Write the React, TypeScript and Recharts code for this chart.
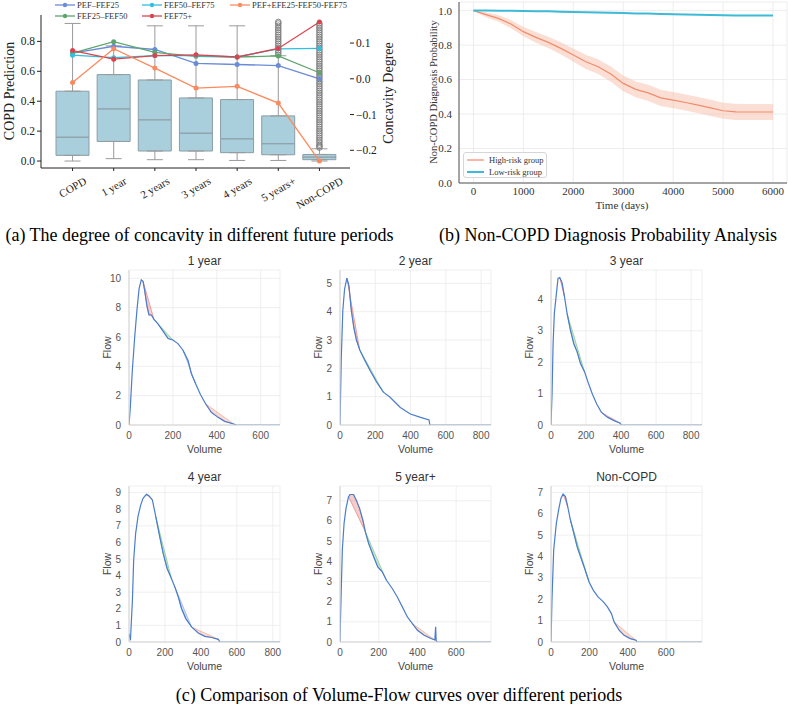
import React from "react";
import {
  ComposedChart,
  Bar,
  Line,
  Area,
  Scatter,
  ErrorBar,
  XAxis,
  YAxis,
  CartesianGrid,
  Label,
} from "recharts";

const SERIF = "'Liberation Serif', 'Times New Roman', serif";
const SANS = "'Liberation Sans', Arial, Helvetica, sans-serif";

// ---------- (a) concavity degree per period ----------
const periods = ["COPD", "1 year", "2 years", "3 years", "4 years", "5 years+", "Non-COPD"];
const boxMin = [0.0, 0.016, 0.009, 0.009, 0.004, 0.004, 0.0];
const boxQ1 = [0.038, 0.131, 0.067, 0.067, 0.056, 0.042, 0.009];
const boxMedian = [0.16, 0.349, 0.276, 0.187, 0.149, 0.116, 0.027];
const boxQ3 = [0.467, 0.578, 0.542, 0.422, 0.411, 0.302, 0.044];
const boxMax = [0.92, 0.77, 0.904, 0.904, 0.904, 0.704, 0.082];
const outliers5Years = [0.71, 0.725, 0.74, 0.755, 0.77, 0.785, 0.8, 0.815, 0.83, 0.845, 0.86, 0.875, 0.89, 0.905, 0.92, 0.93];
const outliersNonCopd = [
  0.09, 0.1, 0.11, 0.125, 0.14, 0.155, 0.17, 0.185, 0.2, 0.215, 0.23, 0.245, 0.26, 0.275, 0.29,
  0.305, 0.32, 0.335, 0.35, 0.365, 0.38, 0.395, 0.41, 0.425, 0.44, 0.455, 0.47, 0.485, 0.5,
  0.515, 0.53, 0.545, 0.56, 0.575, 0.59, 0.605, 0.62, 0.635, 0.65, 0.665, 0.68, 0.695, 0.71,
  0.725, 0.74, 0.755, 0.77, 0.785, 0.8, 0.815, 0.83, 0.845, 0.86, 0.875, 0.89, 0.905, 0.92,
];

const pefFef25 = [0.072, 0.091, 0.082, 0.043, 0.04, 0.037, 0.0];
const fef25Fef50 = [0.072, 0.104, 0.074, 0.063, 0.061, 0.064, 0.017];
const fef50Fef75 = [0.066, 0.059, 0.065, 0.065, 0.061, 0.084, 0.085];
const fef75Plus = [0.079, 0.055, 0.065, 0.067, 0.061, 0.085, 0.159];
const pefAll = [-0.01, 0.084, 0.03, -0.026, -0.021, -0.068, -0.23];

const concavitySeries = [
  { key: "pef", name: "PEF–FEF25", color: "#6a8bd5", values: pefFef25 },
  { key: "f2550", name: "FEF25–FEF50", color: "#5ea56d", values: fef25Fef50 },
  { key: "f5075", name: "FEF50–FEF75", color: "#2fc0df", values: fef50Fef75 },
  { key: "f75", name: "FEF75+", color: "#d9454f", values: fef75Plus },
  { key: "all", name: "PEF+EFE25-FEF50-FEF75", color: "#fb8a5f", values: pefAll },
];

const concavityRows = periods.map((cat, i) => {
  const row: any = {
    cat,
    base: boxQ1[i],
    lower: boxMedian[i] - boxQ1[i],
    upper: boxQ3[i] - boxMedian[i],
    q1: boxQ1[i],
    q3: boxQ3[i],
    upErr: [0, boxMax[i] - boxQ3[i]],
    loErr: [boxQ1[i] - boxMin[i], 0],
  };
  concavitySeries.forEach((s) => (row[s.key] = s.values[i]));
  return row;
});

const outlierPoints = [
  ...outliers5Years.map((v) => ({ ix: 5, v })),
  ...outliersNonCopd.map((v) => ({ ix: 6, v })),
];

// ---------- (b) Kaplan-Meier style curves ----------
const kmDays = [0, 250, 500, 750, 1000, 1250, 1500, 1750, 2000, 2250, 2500, 2750, 3000, 3250, 3500, 3750, 4000, 4250, 4500, 4750, 5000, 5250, 5500, 5750, 6000];
const highRisk = [1.0, 0.977, 0.955, 0.922, 0.878, 0.845, 0.816, 0.781, 0.742, 0.703, 0.674, 0.632, 0.578, 0.543, 0.523, 0.494, 0.481, 0.467, 0.452, 0.436, 0.419, 0.413, 0.412, 0.412, 0.412];
const highRiskLower = [1.0, 0.962, 0.935, 0.898, 0.851, 0.814, 0.783, 0.745, 0.704, 0.662, 0.632, 0.588, 0.532, 0.497, 0.476, 0.447, 0.434, 0.42, 0.405, 0.389, 0.372, 0.366, 0.365, 0.365, 0.365];
const highRiskUpper = [1.0, 0.99, 0.974, 0.945, 0.905, 0.876, 0.849, 0.817, 0.78, 0.744, 0.716, 0.676, 0.624, 0.589, 0.57, 0.541, 0.528, 0.514, 0.499, 0.483, 0.466, 0.46, 0.459, 0.459, 0.459];
const lowRisk = [1.0, 1.0, 0.999, 0.999, 0.998, 0.997, 0.996, 0.994, 0.992, 0.991, 0.989, 0.988, 0.986, 0.984, 0.983, 0.981, 0.979, 0.978, 0.976, 0.975, 0.973, 0.972, 0.972, 0.971, 0.971];
const kmXTicks = [0, 1000, 2000, 3000, 4000, 5000, 6000];
const kmYTicks = [0, 0.2, 0.4, 0.6, 0.8, 1.0];

const kmRows = kmDays.map((t, i) => ({
  t,
  high: highRisk[i],
  band: [highRiskLower[i], highRiskUpper[i]],
  low: lowRisk[i],
}));

// ---------- (c) volume-flow curves: [volume, flow] ----------
const flow1Year = [[0, 0], [6, 1.2], [15, 3.7], [26, 6.0], [36, 7.8], [46, 9.3], [56, 9.9], [64, 9.8], [71, 9.2], [82, 8.1], [91, 7.5], [102, 7.5], [114, 7.2], [132, 6.9], [155, 6.4], [178, 5.9], [200, 5.8], [223, 5.55], [246, 5.1], [269, 4.4], [284, 3.5], [304, 2.8], [325, 2.1], [349, 1.45], [375, 0.87], [406, 0.52], [436, 0.25], [477, 0.07], [489, 0]];
const flow2Year = [[0, 0], [7, 2.3], [16, 4.05], [26, 4.8], [39, 5.18], [51, 4.9], [64, 4.05], [78, 3.45], [93, 3.0], [112, 2.65], [141, 2.28], [170, 1.93], [208, 1.51], [246, 1.16], [284, 0.98], [342, 0.62], [399, 0.39], [457, 0.27], [505, 0.18], [509, 0]];
const flow3Year = [[0, 0], [6, 0.99], [12, 2.6], [19, 3.55], [29, 4.09], [40, 4.67], [50, 4.7], [63, 4.53], [77, 4.09], [92, 3.55], [111, 3.02], [130, 2.59], [149, 2.33], [169, 1.95], [192, 1.69], [211, 1.37], [236, 0.99], [261, 0.67], [287, 0.41], [322, 0.25], [360, 0.14], [395, 0.06], [402, 0]];
const flow4Year = [[0, 0.51], [8, 0.1], [19, 2.52], [26, 4.93], [37, 6.55], [50, 7.55], [65, 8.25], [78, 8.66], [97, 8.9], [112, 8.8], [130, 8.56], [149, 7.55], [171, 6.34], [190, 5.34], [212, 4.43], [236, 3.83], [255, 3.32], [274, 2.72], [292, 2.02], [316, 1.41], [348, 0.91], [385, 0.54], [422, 0.34], [460, 0.27], [497, 0.16], [506, 0]];
const flow5YearPlus = [[0, 0], [5, 2.07], [12, 4.55], [21, 5.87], [31, 6.62], [44, 7.2], [52, 7.31], [70, 7.31], [84, 7.03], [101, 6.62], [118, 6.04], [131, 5.46], [148, 4.88], [174, 4.22], [195, 3.72], [218, 3.48], [240, 3.06], [270, 2.65], [296, 2.23], [322, 1.74], [348, 1.24], [374, 0.91], [400, 0.58], [435, 0.33], [470, 0.17], [490, 0.1], [494, 0.75], [497, 0.05], [503, 0]];
const flowNonCopd = [[0, 0], [5, 1.96], [14, 4.31], [28, 5.56], [40, 6.19], [52, 6.73], [63, 6.92], [75, 6.81], [87, 6.34], [101, 5.72], [119, 5.09], [136, 4.46], [154, 3.99], [175, 3.45], [198, 2.82], [220, 2.43], [245, 2.11], [273, 1.88], [294, 1.64], [315, 1.33], [329, 0.94], [355, 0.55], [381, 0.31], [413, 0.16], [443, 0.08], [448, 0]];

// shaded concavity segments: [start index, end index, colour]
const RED = "#e36f6b";
const GREEN = "#6dbb7a";
const BLUE = "#7f9ede";
const SALMON = "#f29a80";
const shades1Year = [[7, 12, RED], [12, 16, GREEN], [18, 21, BLUE], [23, 27, SALMON]];
const shades2Year = [[4, 9, RED], [9, 13, GREEN]];
const shades3Year = [[6, 8, RED], [9, 14, GREEN], [18, 21, SALMON]];
const shades4Year = [[8, 10, RED], [11, 15, GREEN], [16, 20, BLUE], [20, 24, SALMON]];
const shades5YearPlus = [[5, 11, RED], [11, 16, GREEN], [21, 25, SALMON]];
const shadesNonCopd = [[6, 8, RED], [9, 14, GREEN], [20, 24, SALMON]];

const flowTitles = ["1 year", "2 year", "3 year", "4 year", "5 year+", "Non-COPD"];
const flowTailEnds = [688, 856, 862, 840, 780, 787];
const flowYMax = [10.57, 5.47, 4.94, 9.4, 7.73, 7.3];
const flowXTicks = [
  [0, 200, 400, 600],
  [0, 200, 400, 600, 800],
  [0, 200, 400, 600, 800],
  [0, 200, 400, 600, 800],
  [0, 200, 400, 600],
  [0, 200, 400, 600],
];
const flowYTicks = [
  [0, 2, 4, 6, 8, 10],
  [0, 1, 2, 3, 4, 5],
  [0, 1, 2, 3, 4],
  [0, 1, 2, 3, 4, 5, 6, 7, 8, 9],
  [0, 1, 2, 3, 4, 5, 6, 7],
  [0, 1, 2, 3, 4, 5, 6, 7],
];
const flowCurves = [flow1Year, flow2Year, flow3Year, flow4Year, flow5YearPlus, flowNonCopd];
const flowShades: any[] = [shades1Year, shades2Year, shades3Year, shades4Year, shades5YearPlus, shadesNonCopd];

function buildFlowRows(curve: number[][], shades: any[], tailEnd: number) {
  const rows: any[] = curve.map(([v, f]) => ({ v, f }));
  shades.forEach(([a, b]: number[], k: number) => {
    const [v0, f0] = curve[a];
    const [v1, f1] = curve[b];
    for (let i = a; i <= b; i++) {
      // straight chord between the two curve points bounding the segment
      const chord = f0 + ((curve[i][0] - v0) / (v1 - v0)) * (f1 - f0);
      rows[i]["s" + k] = [curve[i][1], chord];
    }
  });
  rows[rows.length - 1].t = 0;
  rows.push({ v: tailEnd, t: 0 });
  return rows;
}

// ---------- helpers ----------
let measureCtx: any = null;
function textWidth(t: string, font: string) {
  if (!measureCtx && typeof document !== "undefined") {
    measureCtx = document.createElement("canvas").getContext("2d");
  }
  if (!measureCtx) return t.length * 6;
  measureCtx.font = font;
  return measureCtx.measureText(t).width;
}

function PeriodTick(props: any) {
  const { x, y, payload } = props;
  const fs = 11;
  const w = textWidth(payload.value, `${fs}px ${SERIF}`);
  const h = w * 0.5 + fs * 0.866;
  const cy = y + h / 2;
  return (
    <text
      x={x}
      y={cy}
      textAnchor="middle"
      dominantBaseline="central"
      transform={`rotate(-30 ${x} ${cy})`}
      fontSize={fs}
      fontFamily={SERIF}
      fill="#222"
    >
      {payload.value}
    </text>
  );
}

const vTitle = (x: number, y: number, text: string, size: number, family: string, fill = "#222") => () => (
  <text
    x={x}
    y={y}
    transform={`rotate(-90 ${x} ${y})`}
    textAnchor="middle"
    dominantBaseline="central"
    fontSize={size}
    fontFamily={family}
    fill={fill}
  >
    {text}
  </text>
);

const hTitle = (x: number, y: number, text: string, size: number, family: string, fill = "#222") => () => (
  <text x={x} y={y} textAnchor="middle" dominantBaseline="central" fontSize={size} fontFamily={family} fill={fill}>
    {text}
  </text>
);

const noShape = () => <g />;

const OutlierDot = (props: any) => {
  const { cx, cy } = props;
  if (cx == null || cy == null) return <g />;
  return <circle cx={cx} cy={cy} r={2.8} fill="none" stroke="#777" strokeWidth={0.9} />;
};

const fmtSigned = (v: number) => (Math.abs(v) < 1e-9 ? "0.0" : v < 0 ? "−" + Math.abs(v).toFixed(1) : v.toFixed(1));

// ---------- (a) ----------
function ConcavityLegend() {
  const cols = [55, 142, 230];
  const rows = [5, 15.5];
  return (
    <>
      {concavitySeries.map((s, i) => {
        const col = Math.floor(i / 2);
        const row = i % 2;
        return (
          <div
            key={s.key}
            style={{
              position: "absolute",
              left: cols[col],
              top: rows[row] - 5,
              height: 10,
              display: "flex",
              alignItems: "center",
              whiteSpace: "nowrap",
            }}
          >
            <svg width={20} height={10}>
              <line x1={0} y1={5} x2={20} y2={5} stroke={s.color} strokeWidth={1.3} />
              <circle cx={10} cy={5} r={2.2} fill={s.color} />
            </svg>
            <span style={{ marginLeft: 2, fontSize: 8.5, fontFamily: SERIF, color: "#333", lineHeight: "10px" }}>
              {s.name}
            </span>
          </div>
        );
      })}
    </>
  );
}

function ConcavityChart() {
  return (
    <div style={{ position: "absolute", left: 0, top: 0 }}>
      <ComposedChart width={398} height={218} data={concavityRows} margin={{ top: 15, right: 0, left: 0, bottom: 0 }}>
        <XAxis
          dataKey="cat"
          type="category"
          allowDuplicatedCategory={false}
          interval={0}
          padding={{ left: 11, right: 10 }}
          height={50}
          tickSize={3}
          tickMargin={4}
          axisLine={{ stroke: "#222" }}
          tickLine={{ stroke: "#222" }}
          tick={<PeriodTick />}
        />
        <XAxis xAxisId="num" dataKey="ix" type="number" domain={[-0.768, 6.743]} hide allowDataOverflow />
        <YAxis
          yAxisId="l"
          width={41}
          domain={[-0.0465, 0.9765]}
          ticks={[0, 0.2, 0.4, 0.6, 0.8]}
          tickFormatter={(v: number) => v.toFixed(1)}
          tickSize={4}
          tickMargin={2}
          axisLine={{ stroke: "#222" }}
          tickLine={{ stroke: "#222" }}
          tick={{ fontSize: 11.5, fontFamily: SERIF, fill: "#222" }}
          allowDataOverflow
        >
          <Label content={vTitle(9, 91, "COPD Prediction", 14, SERIF)} />
        </YAxis>
        <YAxis
          yAxisId="r"
          orientation="right"
          width={48}
          domain={[-0.2495, 0.1785]}
          ticks={[-0.2, -0.1, 0, 0.1]}
          tickFormatter={fmtSigned}
          tickSize={4}
          tickMargin={2}
          axisLine={false}
          tickLine={{ stroke: "#222" }}
          tick={{ fontSize: 11.5, fontFamily: SERIF, fill: "#222" }}
          allowDataOverflow
        >
          <Label content={vTitle(388, 93, "Concavity Degree", 14, SERIF)} />
        </YAxis>
        <Scatter yAxisId="l" dataKey="q3" shape={noShape} isAnimationActive={false}>
          <ErrorBar dataKey="upErr" direction="y" width={8} stroke="#9a9a9a" strokeWidth={1} />
        </Scatter>
        <Scatter yAxisId="l" dataKey="q1" shape={noShape} isAnimationActive={false}>
          <ErrorBar dataKey="loErr" direction="y" width={8} stroke="#9a9a9a" strokeWidth={1} />
        </Scatter>
        <Bar yAxisId="l" dataKey="base" stackId="box" fill="none" barSize={33} isAnimationActive={false} />
        <Bar yAxisId="l" dataKey="lower" stackId="box" fill="#a9cedc" stroke="#8b9da5" strokeWidth={1} barSize={33} isAnimationActive={false} />
        <Bar yAxisId="l" dataKey="upper" stackId="box" fill="#a9cedc" stroke="#8b9da5" strokeWidth={1} barSize={33} isAnimationActive={false} />
        <Scatter yAxisId="l" xAxisId="num" data={outlierPoints} dataKey="v" shape={OutlierDot} isAnimationActive={false} />
        {concavitySeries.map((s) => (
          <Line
            key={s.key}
            yAxisId="r"
            dataKey={s.key}
            type="linear"
            stroke={s.color}
            strokeWidth={1.3}
            dot={{ r: 2.5, fill: s.color, stroke: s.color, strokeWidth: 0 }}
            isAnimationActive={false}
          />
        ))}
      </ComposedChart>
      <ConcavityLegend />
    </div>
  );
}

// ---------- (b) ----------
function SurvivalChart() {
  const frame = { stroke: "#555", strokeWidth: 1 };
  return (
    <div style={{ position: "absolute", left: 400, top: 0 }}>
      <ComposedChart width={388} height={216} data={kmRows} margin={{ top: 2, right: 1, left: 0, bottom: 0 }}>
        <CartesianGrid stroke="#e9e9e9" strokeWidth={0.8} />
        <XAxis
          dataKey="t"
          type="number"
          domain={[-290, 6280]}
          ticks={kmXTicks}
          height={33}
          tickSize={0}
          tickMargin={4}
          axisLine={frame}
          tick={{ fontSize: 11, fontFamily: SERIF, fill: "#333" }}
          allowDataOverflow
        >
          <Label content={hTitle(222, 205, "Time (days)", 11, SERIF, "#333")} />
        </XAxis>
        <XAxis xAxisId="top" orientation="top" type="number" dataKey="t" domain={[-290, 6280]} height={0} tick={false} tickLine={false} axisLine={frame} allowDataOverflow />
        <YAxis
          width={59}
          domain={[0, 1.05]}
          ticks={kmYTicks}
          tickFormatter={(v: number) => v.toFixed(1)}
          tickSize={0}
          tickMargin={7}
          axisLine={frame}
          tick={{ fontSize: 11, fontFamily: SERIF, fill: "#333" }}
          allowDataOverflow
        >
          <Label content={vTitle(33, 92, "Non-COPD Diagnosis Probability", 10.5, SERIF, "#333")} />
        </YAxis>
        <YAxis yAxisId="right" orientation="right" width={0} domain={[0, 1.05]} tick={false} tickLine={false} axisLine={frame} allowDataOverflow />
        <Area dataKey="band" type="linear" stroke="none" fill="#f8c0ab" fillOpacity={0.5} isAnimationActive={false} />
        <Line dataKey="high" type="linear" stroke="#f28b6b" strokeWidth={1.2} dot={false} isAnimationActive={false} />
        <Line dataKey="low" type="linear" stroke="#3dbad6" strokeWidth={2} dot={false} isAnimationActive={false} />
      </ComposedChart>
      <div
        style={{
          position: "absolute",
          left: 63,
          top: 152,
          width: 84,
          height: 26,
          border: "1px solid #d6d6d6",
          borderRadius: 3,
          background: "rgba(255,255,255,0.85)",
          boxSizing: "border-box",
        }}
      >
        {[
          { name: "High-risk group", color: "#f28b6b", w: 1.2 },
          { name: "Low-risk group", color: "#3dbad6", w: 2 },
        ].map((it, i) => (
          <div key={it.name} style={{ position: "absolute", left: 3, top: 2 + i * 11.5, height: 10, display: "flex", alignItems: "center", whiteSpace: "nowrap" }}>
            <svg width={17} height={10}>
              <line x1={0} y1={5} x2={17} y2={5} stroke={it.color} strokeWidth={it.w} />
            </svg>
            <span style={{ marginLeft: 5, fontSize: 8.5, fontFamily: SERIF, color: "#333", lineHeight: "10px" }}>{it.name}</span>
          </div>
        ))}
      </div>
    </div>
  );
}

// ---------- (c) ----------
const colLefts = [129, 340, 551];
const rowTops = [270, 486];
const plotW = 151;
const rowHeights = [155, 156];

function FlowPanel({ idx }: { idx: number }) {
  const col = idx % 3;
  const row = Math.floor(idx / 3);
  const left = colLefts[col];
  const top = rowTops[row];
  const plotH = rowHeights[row];
  const shades = flowShades[idx];
  const rows = buildFlowRows(flowCurves[idx], shades, flowTailEnds[idx]);
  const axis = { stroke: "#d2d2d2" };
  const tick = { fontSize: 10, fontFamily: SANS, fill: "#555" };
  return (
    <>
      <div
        style={{
          position: "absolute",
          left,
          top: top - 17,
          width: plotW,
          textAlign: "center",
          fontSize: 12,
          fontFamily: SANS,
          color: "#333",
          lineHeight: "16px",
        }}
      >
        {flowTitles[idx]}
      </div>
      <div style={{ position: "absolute", left: left - 40, top: top - 5 }}>
        <ComposedChart width={40 + plotW + 5} height={5 + plotH + 34} data={rows} margin={{ top: 5, right: 5, left: 0, bottom: 0 }}>
          <CartesianGrid stroke="#ebebeb" strokeWidth={0.8} />
          <XAxis
            dataKey="v"
            type="number"
            domain={[0, flowTailEnds[idx]]}
            ticks={flowXTicks[idx]}
            height={34}
            tickSize={0}
            tickMargin={7}
            axisLine={axis}
            tick={tick}
            allowDataOverflow
          >
            <Label content={hTitle(40 + plotW / 2, 5 + plotH + 24, "Volume", 10.5, SANS, "#444")} />
          </XAxis>
          <YAxis
            width={40}
            domain={[0, flowYMax[idx]]}
            ticks={flowYTicks[idx]}
            tickSize={0}
            tickMargin={8}
            axisLine={axis}
            tick={tick}
            allowDataOverflow
          >
            <Label content={vTitle(18, 5 + plotH / 2, "Flow", 10.5, SANS, "#444")} />
          </YAxis>
          {shades.map((s: any[], k: number) => (
            <Area
              key={k}
              dataKey={"s" + k}
              type="linear"
              fill={s[2]}
              fillOpacity={0.35}
              stroke={s[2]}
              strokeOpacity={0.75}
              strokeWidth={0.8}
              isAnimationActive={false}
            />
          ))}
          <Line dataKey="t" type="linear" stroke="#8fb2e8" strokeWidth={1.6} dot={false} connectNulls isAnimationActive={false} />
          <Line dataKey="f" type="linear" stroke="#4a7dcc" strokeWidth={1.2} dot={false} connectNulls isAnimationActive={false} />
        </ComposedChart>
      </div>
    </>
  );
}

function Caption({ cx, cy, text }: { cx: number; cy: number; text: string }) {
  return (
    <div
      style={{
        position: "absolute",
        left: cx - 260,
        top: cy - 11,
        width: 520,
        textAlign: "center",
        fontSize: 18,
        fontFamily: SERIF,
        color: "#000",
        lineHeight: "22px",
        whiteSpace: "nowrap",
      }}
    >
      {text}
    </div>
  );
}

export default function App() {
  return (
    <div style={{ position: "absolute", left: 0, top: 0, width: 788, height: 704, background: "#fff", overflow: "hidden" }}>
      <ConcavityChart />
      <SurvivalChart />
      {flowTitles.map((_, i) => (
        <FlowPanel key={i} idx={i} />
      ))}
      <Caption cx={199.5} cy={235} text="(a) The degree of concavity in different future periods" />
      <Caption cx={608} cy={235} text="(b) Non-COPD Diagnosis Probability Analysis" />
      <Caption cx={399} cy={695} text="(c) Comparison of Volume-Flow curves over different periods" />
    </div>
  );
}
